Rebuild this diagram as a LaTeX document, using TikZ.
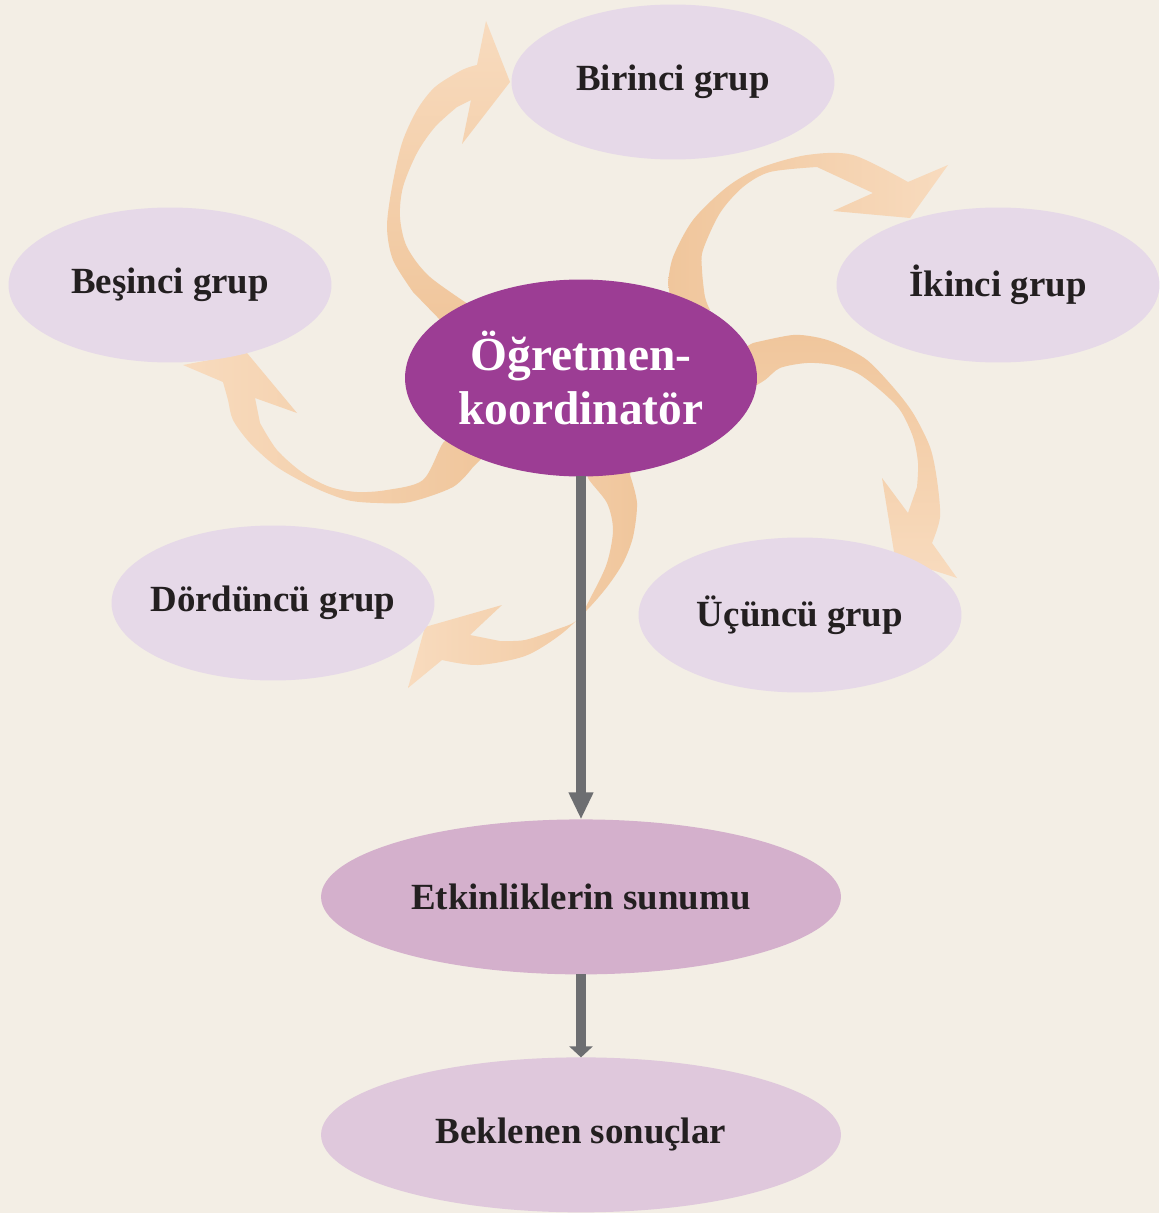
\documentclass[tikz,border=0pt]{standalone}
\usepackage{fontspec}
\setmainfont{Liberation Serif}
\usepackage{xcolor}
\usepackage{tikz}
\usetikzlibrary{shapes.geometric,arrows.meta,positioning,calc}

\definecolor{bgcream}{HTML}{F3EEE5}
\definecolor{grupfill}{HTML}{E6D9E8}
\definecolor{merkezfill}{HTML}{9C3D94}
\definecolor{sunumfill}{HTML}{D4B0CC}
\definecolor{sonucfill}{HTML}{DFC8DC}
\definecolor{okgray}{HTML}{6D6E71}
\definecolor{okbase}{HTML}{F0C69C}
\definecolor{oktip}{HTML}{F8DBBE}
\definecolor{yazi}{HTML}{231F20}

\begin{document}
\begin{tikzpicture}[x=0.02cm, y=-0.02cm,
    grup/.style={ellipse, fill=grupfill, minimum width=6.46cm, minimum height=3.1cm, inner xsep=-0.6cm, inner ysep=0pt, outer sep=0pt, text=yazi, font=\fontsize{21}{25}\selectfont\bfseries},
    merkez/.style={ellipse, fill=merkezfill, minimum width=7.04cm, minimum height=3.94cm, inner sep=0pt, outer sep=0pt, text=white, align=center, font=\fontsize{27}{31}\selectfont\bfseries},
    sonuc/.style={grup, minimum width=10.4cm},
    line/.style={draw=okgray, line width=5.4pt}]

    \fill[bgcream] (0,0) rectangle (1159,1213);
    \useasboundingbox (0,0) rectangle (1159,1213);

    % curved arrows round the coordinator
    \shade[top color=oktip, bottom color=okbase]
      (480,312) -- (445,325) -- plot[smooth] coordinates {(413,292) (393,260) (387,227) (392,187) (402,143) (417,110) (435,87) (462,70) (477,65)}
      -- (486,21) -- (510,82) -- (462,144) -- (471,100)
      -- plot[smooth] coordinates {(457,107) (435,127) (417,153) (403,187) (400,217) (407,247) (430,277) (480,312)} -- cycle;
    \shade[left color=okbase, right color=oktip]
      (710,310) -- (672,310) -- plot[smooth] coordinates {(668,283) (673,257) (693,220) (727,187) (760,168) (807,155) (853,155) (908,182)}
      -- (948,165) -- (910,218) -- (833,211) -- (873,193)
      -- plot[smooth] coordinates {(817,167) (770,172) (743,187) (720,213) (703,250) (702,270) (705,297) (710,310)} -- cycle;
    \shade[top color=okbase, bottom color=oktip]
      (745,392) -- (740,350) -- plot[smooth] coordinates {(753,343) (793,335) (820,338) (840,345) (867,360) (893,387) (913,413) (930,447) (937,480) (940,517) (932,543)}
      -- (957,578) -- (895,558) -- (882,478) -- (908,513)
      -- plot[smooth] coordinates {(917,487) (918,463) (913,437) (900,410) (880,390) (857,373) (833,365) (807,363) (780,368) (765,380) (745,392)} -- cycle;
    \shade[right color=okbase, left color=oktip]
      (590,465) -- (632,462) -- plot[smooth] coordinates {(630,475) (637,503) (633,537) (623,563) (607,587) (587,610) (560,635) (525,656) (478,665) (442,660)}
      -- (408,688) -- (425,627) -- (502,605) -- (470,635)
      -- plot[smooth] coordinates {(500,641) (525,640) (555,630) (577,620) (593,593) (607,563) (613,530) (607,503) (588,478) (590,465)} -- cycle;
    \shade[right color=okbase, left color=oktip]
      (455,438) -- (485,455) -- plot[smooth] coordinates {(473,467) (453,487) (410,502) (377,503) (347,500) (313,487) (277,467) (250,443) (233,420) (228,400) (223,382)}
      -- (183,365) -- (247,353) -- (297,413) -- (255,398)
      -- plot[smooth] coordinates {(260,423) (277,450) (303,473) (330,487) (357,492) (387,490) (423,480) (443,443) (455,438)} -- cycle;

    \node[merkez] (koord) at (581,378) {Öğretmen-\\koordinatör};
    \node[grup] (birinci) at (673,82) {Birinci grup};
    \node[grup] (ikinci) at (998,285) {İkinci grup};
    \node[grup] (ucuncu) at (800,615) {Üçüncü grup};
    \node[grup] (dorduncu) at (273,603) {Dördüncü grup};
    \node[grup] (besinci) at (170,285) {Beşinci grup};
    \node[sonuc, fill=sunumfill, below=6.86cm of koord] (sunum) {Etkinliklerin sunumu};
    \node[sonuc, fill=sonucfill, below=1.66cm of sunum] (sonuclar) {Beklenen sonuçlar};

    \draw[line, -{Triangle[width=0.46cm, length=0.54cm]}] (koord) -- (sunum);
    \draw[line, -{Triangle[width=0.46cm, length=0.22cm]}] (sunum) -- (sonuclar);
\end{tikzpicture}
\end{document}
